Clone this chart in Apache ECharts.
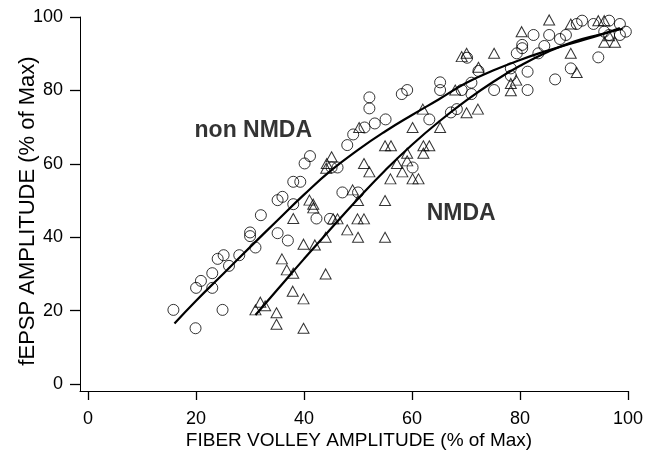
<!DOCTYPE html>
<html>
<head>
<meta charset="utf-8">
<script src="https://cdn.jsdelivr.net/npm/echarts@6/dist/echarts.min.js"></script>
<style>
  html, body { margin: 0; padding: 0; background: #fff; }
  #chart { width: 647px; height: 456px; }
</style>
</head>
<body>
<div id="chart"></div>
<script>
// ticks (axes start a little below zero so the two axis lines meet in the corner)
const xTicks = [0, 20, 40, 60, 80, 100]
const yTicks = [0, 20, 40, 60, 80, 100]
const xTitle = 'FIBER VOLLEY AMPLITUDE (% of Max)'
const yTitle = 'fEPSP AMPLITUDE (% of Max)'

// circles: non NMDA (fiber volley %, fEPSP %)
const nonNmdaPoints = [
  [15.8, 20.2], [19.9, 15.2], [20, 26.2], [20.9, 28.1], [23, 26.2], [23, 30.2],
  [24, 34.1], [25.1, 35.1], [24.9, 20.2], [26.1, 32.2], [28, 35.1], [30, 41.3],
  [30, 40.3], [31, 37.2], [32, 46], [35.1, 41.1], [35.1, 50.1], [36, 51],
  [37, 39.1], [38, 49], [38, 55.1], [39.3, 55.1], [40.1, 60.1], [41.1, 62.1],
  [42.3, 45.1], [44.8, 45], [45.1, 59], [46.2, 59], [47.1, 52.2], [50, 52.2],
  [48, 65.1], [49.1, 68], [51.2, 69.9], [53.1, 71], [55.1, 72.1], [52.1, 78.1],
  [52.1, 75.1], [58.1, 79], [59.1, 80.1], [60.1, 59], [63.2, 72.1], [65.2, 82.2],
  [65.2, 80.1], [67.2, 74], [68.3, 74.9], [69.2, 80.1], [70.2, 88.9], [71, 82.1],
  [71, 79], [72.3, 85.3], [75.2, 80.1], [78.3, 86], [78.3, 84], [79.4, 90.1],
  [80.4, 92.4], [80.4, 91.5], [81.4, 85.1], [81.4, 80.1], [82.5, 95.1], [83.4, 90.1],
  [84.5, 92.1], [85.4, 95.1], [86.5, 83], [87.4, 94], [88.5, 95.1], [89.4, 86],
  [90.5, 98.1], [91.5, 99], [93.6, 98.1], [94.5, 89], [95.6, 96], [96.5, 95.1],
  [96.5, 99], [98.5, 98.1], [98.5, 95.1], [99.6, 96],
]

// triangles: NMDA
const nmdaPoints = [
  [31, 20.2], [31.9, 22.3], [32.8, 21.3], [34.9, 19.4], [34.9, 16.3], [35.9, 34.1],
  [36.8, 31.1], [38, 30.2], [37.9, 25.3], [38, 45.1], [39.9, 38.1], [39.9, 23.2],
  [39.9, 15.2], [41, 50.1], [41.7, 49], [41.7, 48], [42, 37.9], [44, 40],
  [44, 30], [45.1, 61.9], [44.2, 60.1], [44.1, 58.8], [45.4, 45], [46.2, 45],
  [48, 42], [49, 52.9], [49.9, 45], [51.1, 45], [50, 50], [50, 40],
  [50.2, 69.9], [51.1, 60.1], [52.1, 57.8], [55, 50], [55, 40], [55, 64.9],
  [56.1, 64.9], [56, 55.9], [57.2, 60.1], [58.2, 57.8], [59.1, 60.8], [59.1, 62.9],
  [60.1, 55.9], [61.2, 55.9], [60.1, 69.9], [62, 74.9], [62.1, 64.9], [63.2, 64.9],
  [62.1, 62.9], [65.2, 69.9], [68, 80.1], [69.2, 89.2], [70.1, 90.1], [70.1, 73.9],
  [72.2, 74.9], [72.3, 86.3], [75.2, 90.1], [78.3, 81.9], [78.3, 79.9], [79.3, 82.8],
  [80.3, 96], [85.4, 99.2], [89.4, 98.1], [89.4, 90.1], [90.5, 84.9], [94.5, 99],
  [95.6, 99], [95.6, 93.1], [97.6, 93.1], [96.5, 94.9],
]

// fitted curves
const nonNmdaFit = [
  [16, 16.5], [20, 22.7], [25, 30], [30, 37.3], [35, 44.5], [40, 51.6],
  [45, 58.2], [50, 63.8], [55, 68.8], [60, 73.3], [65, 77.6], [70, 82],
  [75, 85.4], [80, 88.3], [85, 90.8], [90, 93], [95, 95.2], [98.5, 97],
]
const nmdaFit = [
  [31, 18.8], [35, 25.6], [40, 34.1], [45, 42.4], [50, 50.5], [55, 58.2],
  [60, 65.2], [65, 71.5], [70, 77.2], [75, 82.3], [80, 86.7], [85, 90.4],
  [90, 93.3], [95, 95.3], [99, 96.8],
]

// curve labels
const curveLabels = [
  [30.6, 68.9, 'non NMDA'],
  [69.1, 46.5, 'NMDA'],
]

const font = 'Liberation Sans, Arial, Helvetica, sans-serif'
const hollow = { color: 'rgba(0,0,0,0)', borderColor: '#000', borderWidth: 1 }
const tickStyle = { color: '#000', width: 1.3 }

const chart = echarts.init(document.getElementById('chart'))

chart.setOption({
  animation: false,
  grid: { left: 80, right: 19, top: 17, bottom: 65 },
  // axis titles as plain text
  graphic: [
    {
      type: 'text', x: 359, y: 441,
      style: { text: xTitle, fill: '#000', fontSize: 19, fontFamily: font, align: 'center', verticalAlign: 'middle' },
    },
    {
      type: 'text', x: 28, y: 211, rotation: Math.PI / 2,
      style: { text: yTitle, fill: '#000', fontSize: 22, fontFamily: font, align: 'center', verticalAlign: 'middle' },
    },
  ],
  xAxis: {
    type: 'value',
    min: -1.5,
    max: 100,
    axisLine: { show: true, onZero: false, lineStyle: { color: '#000', width: 1 } },
    axisTick: Object.assign({ customValues: xTicks }, { show: true, length: 9, lineStyle: tickStyle }),
    axisLabel: { customValues: xTicks, margin: 19, color: '#000', fontSize: 18, fontFamily: font },
    splitLine: { show: false },
  },
  yAxis: {
    type: 'value',
    min: -1.9,
    max: 100,
    axisLine: { show: true, onZero: false, lineStyle: { color: '#000', width: 1 } },
    axisTick: Object.assign({ customValues: yTicks }, { show: true, length: 10, lineStyle: tickStyle }),
    axisLabel: { customValues: yTicks, margin: 17, color: '#000', fontSize: 18, fontFamily: font },
    splitLine: { show: false },
  },
  series: [
    {
      type: 'scatter',
      name: 'non NMDA',
      symbol: 'circle',
      symbolSize: 11,
      itemStyle: hollow,
      data: nonNmdaPoints,
    },
    {
      type: 'scatter',
      name: 'NMDA',
      symbol: 'triangle',
      symbolSize: [11, 10],
      itemStyle: hollow,
      data: nmdaPoints,
    },
    {
      type: 'line',
      smooth: true,
      showSymbol: false,
      lineStyle: { color: '#000', width: 2.2 },
      data: nonNmdaFit,
    },
    {
      type: 'line',
      smooth: true,
      showSymbol: false,
      lineStyle: { color: '#000', width: 2.2 },
      data: nmdaFit,
    },
    {
      type: 'scatter',
      symbolSize: 0,
      silent: true,
      label: {
        show: true,
        position: 'inside',
        formatter: p => p.data[2],
        color: '#000',
        fontSize: 23,
        fontWeight: 'bold',
        fontFamily: font,
      },
      data: curveLabels,
    },
  ],
})
</script>
</body>
</html>
